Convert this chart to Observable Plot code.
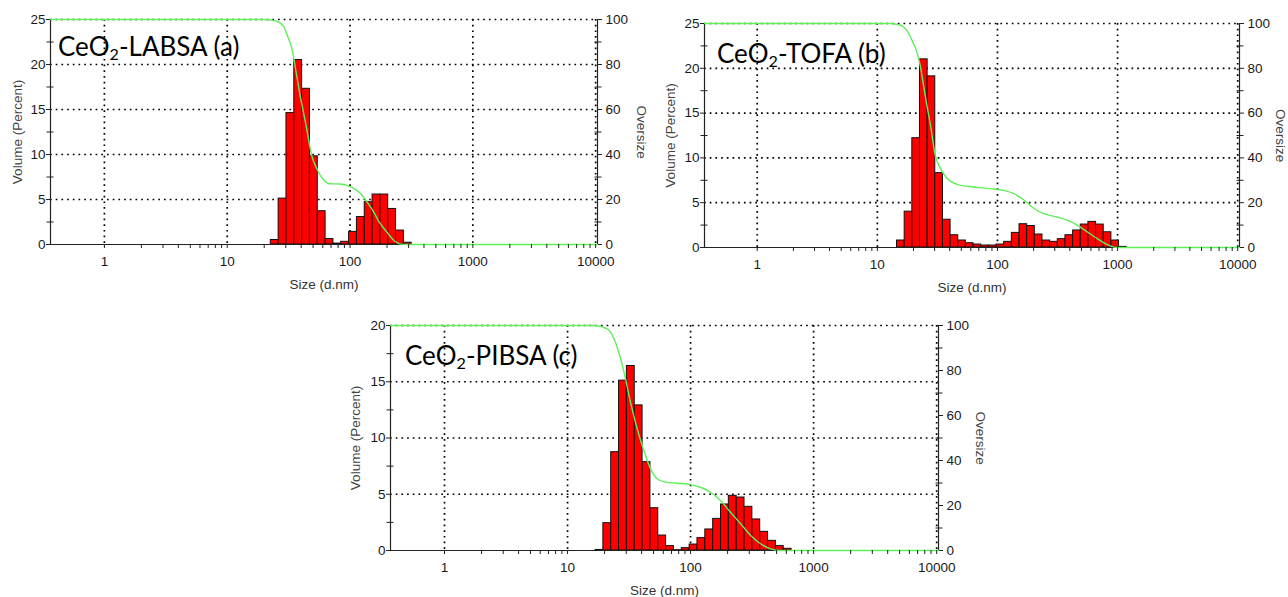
<!DOCTYPE html>
<html><head><meta charset="utf-8">
<script src="https://cdn.jsdelivr.net/npm/d3@7"></script>
<script src="https://cdn.jsdelivr.net/npm/@observablehq/plot@0.6"></script>
<style>
html,body{margin:0;padding:0;background:#fff;}
#root{position:relative;width:1288px;height:597px;overflow:hidden;background:#fff;}
.panel{position:absolute;}
.title{position:absolute;font-family:Lato,"Open Sans",sans-serif;font-size:26px;line-height:1;color:#000;white-space:nowrap;}
.title sub{font-size:0.62em;vertical-align:-0.22em;line-height:0;}
</style></head><body><div id="root"></div>
<script>
// ---- data ----
const titles = ["CeO|2|-LABSA (a)", "CeO|2|-TOFA (b)", "CeO|2|-PIBSA (c)"];

const sizesA  = [24.36, 28.21, 32.67, 37.84, 43.82, 50.75, 58.77, 68.06, 78.82, 91.28, 105.7, 122.4, 141.8, 164.2, 190.1, 220.2, 255.0, 295.3];
const volumeA = [0.5, 5.1, 14.6, 20.5, 17.3, 9.8, 3.7, 0.6, 0.1, 0.3, 1.4, 3.05, 4.7, 5.55, 5.55, 3.95, 1.55, 0.2];

const sizesB  = [15.69, 18.17, 21.04, 24.36, 28.21, 32.67, 37.84, 43.82, 50.75, 58.77, 68.06, 78.82, 91.28, 105.7, 122.4, 141.8, 164.2, 190.1, 220.2, 255.0, 295.3, 342.0, 396.1, 458.7, 531.2, 615.1, 712.4, 825.0, 955.4, 1106];
const volumeB = [0.78, 4.0, 12.2, 21.0, 19.1, 8.3, 3.1, 1.37, 0.78, 0.48, 0.33, 0.22, 0.22, 0.33, 0.63, 1.63, 2.6, 2.4, 1.45, 0.78, 0.63, 0.93, 1.37, 1.9, 2.56, 2.86, 2.56, 1.7, 0.78, 0.07];

const sizesC  = [18.17, 21.04, 24.36, 28.21, 32.67, 37.84, 43.82, 50.75, 58.77, 68.06, 78.82, 91.28, 105.7, 122.4, 141.8, 164.2, 190.1, 220.2, 255.0, 295.3, 342.0, 396.1, 458.7, 531.2, 615.1];
const volumeC = [0.05, 2.43, 8.74, 15.1, 16.4, 12.9, 7.85, 3.76, 1.33, 0.39, 0.03, 0.21, 0.53, 1.1, 1.87, 2.81, 4.09, 4.86, 4.71, 3.88, 2.76, 1.66, 0.86, 0.39, 0.15];

const overSizesA = [0.365, 19.6, 24.4, 28.5, 31.3, 34, 35.5, 39, 44.2, 48.5, 53.3, 60.3, 68.4, 82.4, 100.5, 120, 136, 154, 174, 197, 224, 253, 287, 10300];
const oversizeA  = [100, 100, 99.5, 97.3, 92, 86, 80, 67, 52, 40, 34, 29, 27, 26.9, 25.7, 23, 19.3, 14.9, 9.7, 5.9, 2.2, 0.3, 0, 0];

const overSizesB = [0.365, 12.8, 15.5, 17.7, 19.5, 21.4, 22.8, 24.3, 25.9, 27.7, 30.4, 33.5, 38.1, 46.2, 63.5, 87.5, 113, 137, 166, 201, 243, 314, 381, 461, 559, 677, 820, 994, 10300];
const oversizeB  = [100, 100, 99.3, 96.7, 92.3, 87, 81, 72, 63.2, 54.5, 41, 35.3, 30.8, 28.2, 27, 26.3, 25.5, 24, 21.2, 17.4, 15.1, 13.6, 12.2, 10, 7, 4, 1.3, 0, 0];

const overSizesC = [0.365, 16.4, 21, 24.5, 27, 29.6, 32.5, 36.8, 41.7, 47.3, 53.5, 62.6, 77.8, 100, 120, 145, 175, 211, 255, 308, 371, 447, 540, 10300];
const oversizeC  = [100, 100, 98.5, 92.6, 85.2, 76.3, 65.9, 54.1, 44.4, 36.3, 31.9, 30.4, 29.9, 29.3, 28.1, 25.9, 22.2, 17, 11.9, 6.7, 3, 0.7, 0, 0];

const decadeTicks = [1, 10, 100, 1000, 10000];
const minorMultipliers = [2, 3, 4, 5, 6, 7, 8, 9];
const leftTicksAB = [0, 5, 10, 15, 20, 25];
const leftTicksC = [0, 5, 10, 15, 20];
const rightTicks = [0, 20, 40, 60, 80, 100];
const rightMinorTicks = [10, 30, 50, 70, 90];
const xDomain = [0.364, 10350];

// ---- drawing ----
function bins(sizes, vols) {
  return sizes.map((s, i) => {
    const prev = i > 0 ? sizes[i - 1] : s * s / sizes[i + 1];
    const next = i < sizes.length - 1 ? sizes[i + 1] : s * s / sizes[i - 1];
    return {x1: Math.sqrt(prev * s), x2: Math.sqrt(s * next), v: vols[i]};
  });
}

function panel(cfg) {
  const {sizes, vols, oSizes, oVals, yMax, leftTicks, width, height, m, volDx, overDx, sizeDy} = cfg;
  const bars = bins(sizes, vols);
  const curve = oSizes.map((s, i) => ({s, o: oVals[i] * yMax / 100}));
  const leftMinor = leftTicks.slice(0, -1).map(t => t + 2.5);
  const minorX = decadeTicks.slice(0, -1).flatMap(d => minorMultipliers.map(k => k * d));
  const dotted = {stroke: "#000", strokeWidth: 1.7, strokeDasharray: "1.7,4"};
  const toLeft = t => t * yMax / 100;
  const labelStyle = {fill: "#444", fontSize: 13.5, textAnchor: "middle", lineAnchor: "middle"};
  return Plot.plot({
    width, height,
    marginLeft: m[3], marginRight: m[1], marginTop: m[0], marginBottom: m[2],
    x: {type: "log", domain: xDomain},
    y: {domain: [0, yMax]},
    style: {fontFamily: "'Liberation Sans', Arial, sans-serif", fontSize: "13.5px", color: "#1a1a1a", background: "transparent", overflow: "visible"},
    marks: [
      Plot.ruleX(decadeTicks, dotted),
      Plot.ruleY(leftTicks.slice(1), dotted),
      Plot.rect(bars, {x1: "x1", x2: "x2", y1: 0, y2: "v", fill: "#ff0000", stroke: "#111", strokeWidth: 1}),
      Plot.ruleY([0], {stroke: "#222", strokeWidth: 1.2}),
      Plot.ruleX(xDomain, {stroke: "#222", strokeWidth: 1.2}),
      Plot.line(curve, {x: "s", y: "o", stroke: "#5ef05a", strokeWidth: 1.4, curve: "monotone-x"}),
      Plot.axisX({ticks: decadeTicks, tickSize: 4, tickPadding: 8, tickFormat: d => String(d), label: null, stroke: "#222"}),
      Plot.axisX({ticks: minorX, tickSize: 4, tickFormat: () => "", label: null, stroke: "#222"}),
      Plot.axisY({ticks: leftTicks, tickSize: 4, tickPadding: 1, label: null, stroke: "#222"}),
      Plot.axisY({ticks: leftMinor, tickSize: 7, dx: 3.5, tickFormat: () => "", label: null, stroke: "#222"}),
      Plot.axisY({anchor: "right", ticks: rightTicks.map(toLeft), tickFormat: d => String(Math.round(d * 100 / yMax)), tickSize: 4, tickPadding: 4, label: null, stroke: "#222"}),
      Plot.axisY({anchor: "right", ticks: rightMinorTicks.map(toLeft), tickSize: 7, dx: -3.5, tickFormat: () => "", label: null, stroke: "#222"}),
      Plot.text(["Volume (Percent)"], {frameAnchor: "left", rotate: -90, dx: volDx, ...labelStyle}),
      Plot.text(["Oversize"], {frameAnchor: "right", rotate: 90, dx: overDx, ...labelStyle}),
      Plot.text(["Size (d.nm)"], {frameAnchor: "bottom", dy: sizeDy, ...labelStyle, fill: "#333"})
    ]
  });
}

const root = document.getElementById("root");
const panels = [
  {sizes: sizesA, vols: volumeA, oSizes: overSizesA, oVals: oversizeA, yMax: 25, leftTicks: leftTicksAB,
   width: 660, height: 300, m: [19, 63, 56, 50], left: 0, top: 0, volDx: -33, overDx: 44, sizeDy: 40,
   title: titles[0], tLeft: 58, tTop: 33},
  {sizes: sizesB, vols: volumeB, oSizes: overSizesB, oVals: oversizeB, yMax: 25, leftTicks: leftTicksAB,
   width: 638, height: 300, m: [23, 49, 53, 54], left: 650, top: 0, volDx: -34, overDx: 41, sizeDy: 40,
   title: titles[1], tLeft: 717, tTop: 40},
  {sizes: sizesC, vols: volumeC, oSizes: overSizesC, oVals: oversizeC, yMax: 20, leftTicks: leftTicksC,
   width: 660, height: 297, m: [25, 62, 47, 50], left: 340, top: 300, volDx: -34.5, overDx: 42, sizeDy: 40,
   title: titles[2], tLeft: 405, tTop: 342}
];
for (const p of panels) {
  const div = document.createElement("div");
  div.className = "panel";
  div.style.left = p.left + "px";
  div.style.top = p.top + "px";
  div.appendChild(panel(p));
  root.appendChild(div);
}
for (const p of panels) {
  const t = document.createElement("div");
  t.className = "title";
  t.style.left = p.tLeft + "px";
  t.style.top = p.tTop + "px";
  const [a, sub, b] = p.title.split("|");
  t.append(a);
  const s = document.createElement("sub");
  s.textContent = sub;
  t.append(s, b);
  root.appendChild(t);
}
</script></body></html>
